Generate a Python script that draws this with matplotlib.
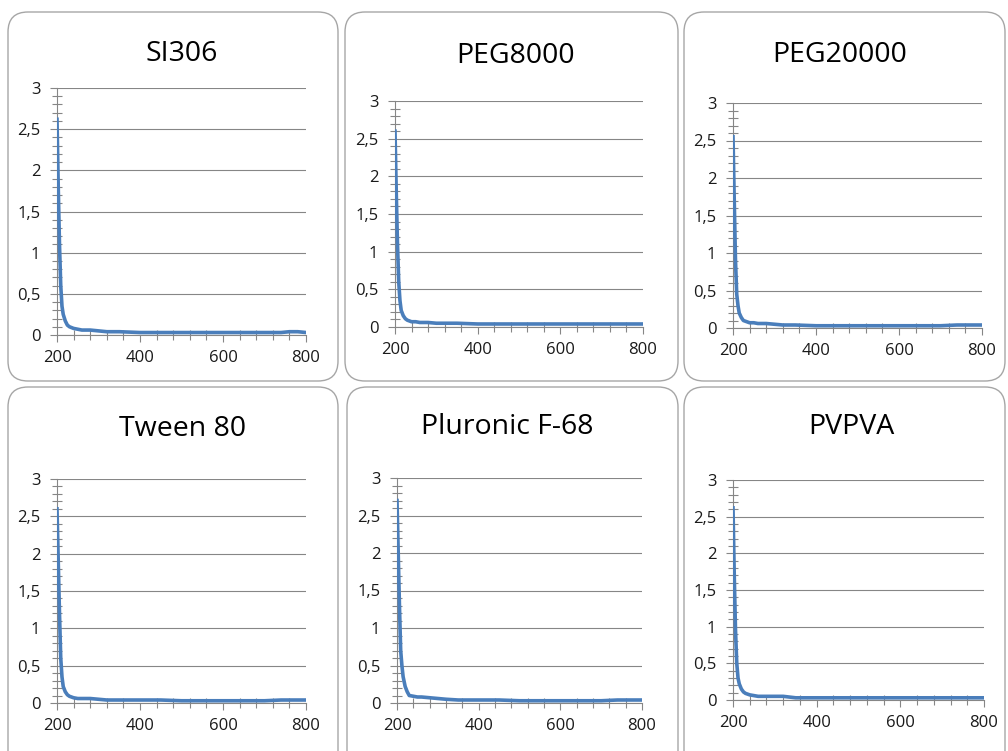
import matplotlib
matplotlib.use('Agg')
import matplotlib.pyplot as plt
from matplotlib.patches import FancyBboxPatch
from matplotlib.ticker import MultipleLocator, FuncFormatter

plt.rcParams['font.family'] = ['Open Sans', 'DejaVu Sans']

# 波长 (nm)
wl = [200, 203, 206, 209, 212, 215, 220, 225, 230, 240, 250, 260, 280, 300,
      320, 350, 400, 450, 500, 550, 600, 650, 700, 740, 760, 780, 800]

si306 = [2.62, 1.80, 1.10, 0.60, 0.35, 0.25, 0.17, 0.12, 0.10, 0.08, 0.07, 0.06, 0.06, 0.05,
         0.04, 0.04, 0.03, 0.03, 0.03, 0.03, 0.03, 0.03, 0.03, 0.03, 0.04, 0.04, 0.03]
peg8000 = [2.60, 1.80, 1.10, 0.60, 0.35, 0.22, 0.15, 0.11, 0.09, 0.07, 0.07, 0.06, 0.06, 0.05,
           0.05, 0.05, 0.04, 0.04, 0.04, 0.04, 0.04, 0.04, 0.04, 0.04, 0.04, 0.04, 0.04]
peg20000 = [2.55, 1.70, 0.90, 0.45, 0.30, 0.20, 0.14, 0.10, 0.09, 0.07, 0.07, 0.06, 0.06, 0.05,
            0.04, 0.04, 0.03, 0.03, 0.03, 0.03, 0.03, 0.03, 0.03, 0.04, 0.04, 0.04, 0.04]
tween80 = [2.60, 1.90, 1.20, 0.60, 0.35, 0.22, 0.15, 0.11, 0.09, 0.07, 0.06, 0.06, 0.06, 0.05,
           0.04, 0.04, 0.04, 0.04, 0.03, 0.03, 0.03, 0.03, 0.03, 0.04, 0.04, 0.04, 0.04]
pluronic = [2.70, 2.00, 1.30, 0.70, 0.50, 0.35, 0.22, 0.15, 0.10, 0.09, 0.08, 0.08, 0.07, 0.06,
            0.05, 0.04, 0.04, 0.04, 0.03, 0.03, 0.03, 0.03, 0.03, 0.04, 0.04, 0.04, 0.04]
pvpva = [2.62, 1.70, 0.95, 0.50, 0.30, 0.22, 0.15, 0.11, 0.09, 0.07, 0.06, 0.05, 0.05, 0.05,
         0.05, 0.03, 0.03, 0.03, 0.03, 0.03, 0.03, 0.03, 0.03, 0.03, 0.03, 0.03, 0.03]

titles = ['SI306', 'PEG8000', 'PEG20000', 'Tween 80', 'Pluronic F-68', 'PVPVA']
series = [si306, peg8000, peg20000, tween80, pluronic, pvpva]

W, H = 1008, 751
fig = plt.figure(figsize=(W / 100, H / 100), dpi=100)

# 外框 (像素): 左, 上, 右, 下
boxes = [(8, 12, 338, 381), (345, 12, 678, 381), (684, 12, 1005, 381),
         (8, 387, 338, 775), (347, 387, 678, 775), (684, 387, 1005, 775)]
# 绘图区 (像素): y轴x, 3的y, 800的x, 0的y
plots = [(57, 88, 306, 335), (395, 101, 643, 327), (733, 103, 982, 328),
         (57, 479, 306, 703), (397, 478, 642, 703), (733, 480, 984, 700)]
# 标题中心x, 基线y
tpos = [(182, 61), (516, 63), (840, 62), (183, 436), (507, 434), (851, 434)]

grey = '#868686'
blue = '#4A7EBB'
fmt = FuncFormatter(lambda v, p: ('%g' % v).replace('.', ','))

for i in range(6):
    l, t, r, b = boxes[i]
    box = FancyBboxPatch((l / 100, (H - b) / 100), (r - l) / 100, (b - t) / 100,
                         boxstyle='round,pad=0,rounding_size=0.2',
                         transform=fig.dpi_scale_trans, facecolor='white',
                         edgecolor='#a6a6a6', linewidth=1.0, zorder=0)
    fig.add_artist(box)

    x0, y3, x8, y0 = plots[i]
    ax = fig.add_axes([x0 / W, 1 - y0 / H, (x8 - x0) / W, (y0 - y3) / H])
    ax.patch.set_alpha(0)
    ax.plot(wl, series[i], color=blue, linewidth=2.6, zorder=3)
    ax.set_xlim(200, 800)
    ax.set_ylim(0, 3)
    ax.xaxis.set_major_locator(MultipleLocator(200))
    ax.xaxis.set_minor_locator(MultipleLocator(40))
    ax.yaxis.set_major_locator(MultipleLocator(0.5))
    ax.yaxis.set_minor_locator(MultipleLocator(0.1))
    ax.yaxis.set_major_formatter(fmt)
    for s in ['top', 'right']:
        ax.spines[s].set_visible(False)
    for s in ['left', 'bottom']:
        ax.spines[s].set_color(grey)
        ax.spines[s].set_linewidth(0.8)
    ax.grid(axis='y', color=grey, linewidth=0.8)
    ax.set_axisbelow(True)
    ax.tick_params(which='major', direction='out', length=5, color=grey, width=0.8,
                   labelsize=12, labelcolor='#1a1a1a')
    ax.tick_params(which='minor', direction='inout', length=7, color=grey, width=0.8)
    ax.tick_params(axis='y', which='major', pad=7)
    ax.tick_params(axis='x', which='major', pad=6)

    tx, ty = tpos[i]
    fig.text(tx / W, 1 - ty / H, titles[i], ha='center', va='baseline',
             fontsize=20.5, color='black')

plt.savefig('out.png', dpi=100, facecolor='white')
